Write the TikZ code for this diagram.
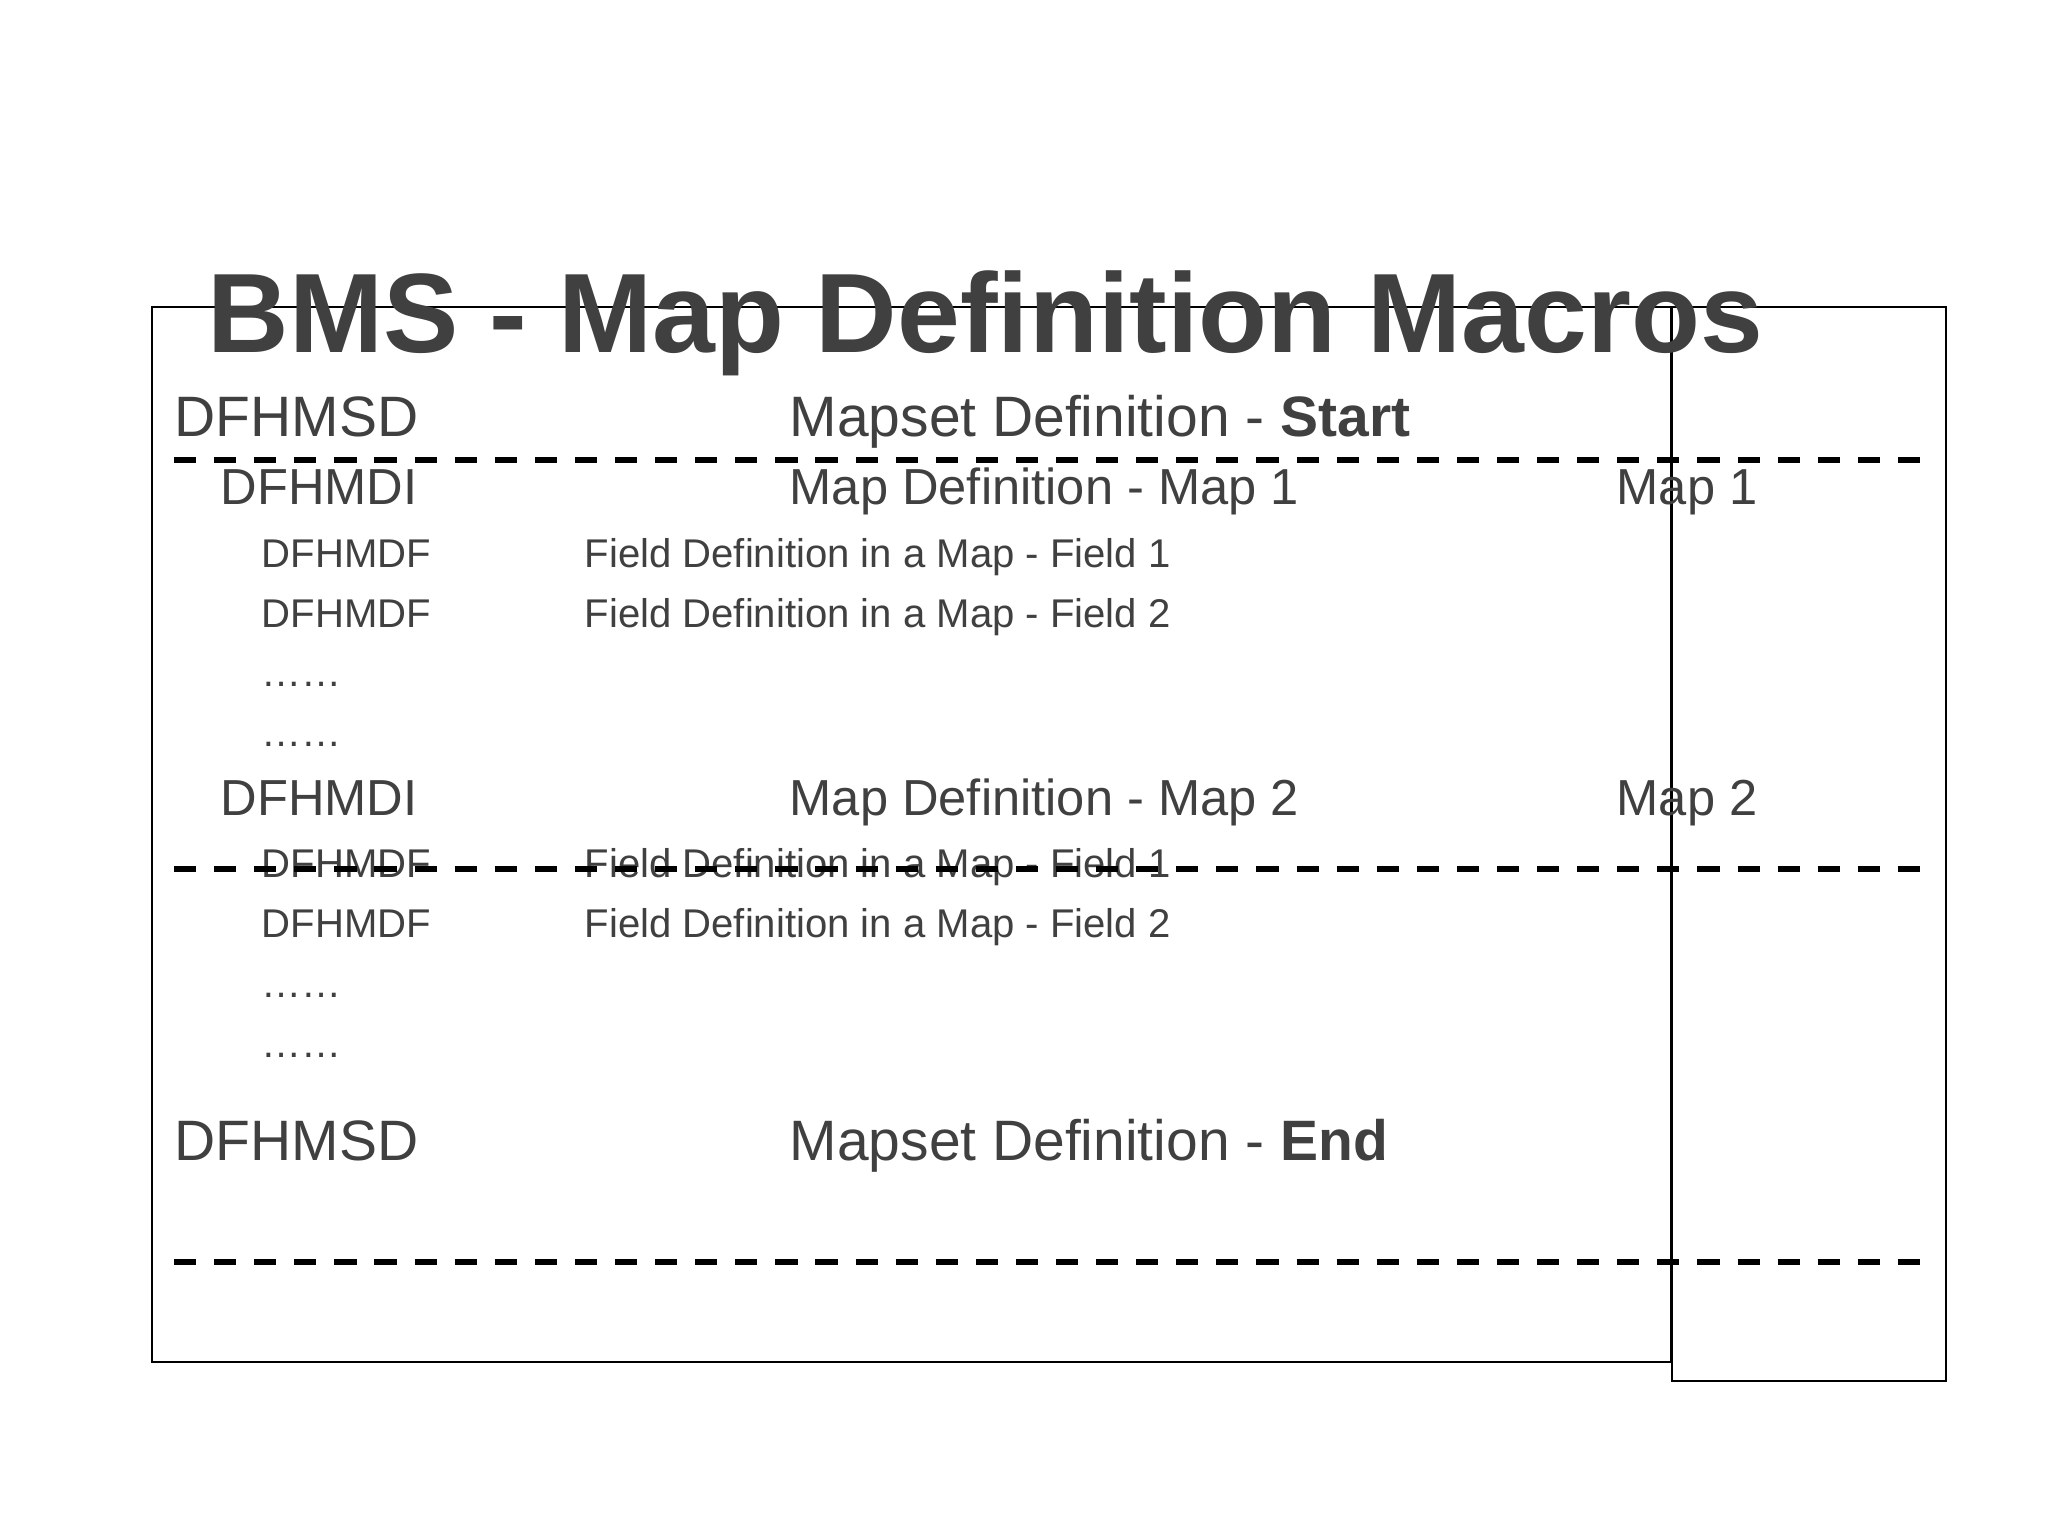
\documentclass[tikz,border=0pt]{standalone}
\usepackage{fontspec}
\setmainfont{Liberation Sans}
\definecolor{txt}{HTML}{404040}
\begin{document}
\begin{tikzpicture}[x=0.01cm,y=-0.01cm,
  big/.style={anchor=base west,inner sep=0,text=txt,font=\fontsize{16.2pt}{19pt}\selectfont},
  mid/.style={anchor=base west,inner sep=0,text=txt,font=\fontsize{14.4pt}{17pt}\selectfont},
  small/.style={anchor=base west,inner sep=0,text=txt,font=\fontsize{11.4pt}{13pt}\selectfont},
  ttl/.style={anchor=base west,inner sep=0,text=txt,font=\fontsize{32.1pt}{36pt}\selectfont\bfseries},
  frame/.style={draw=black,line width=0.7pt},
  sep/.style={draw=black,line width=1.8pt,dash pattern=on 6.3pt off 5.1pt}]
\useasboundingbox (0,0) rectangle (2048,1536);
% frames
\coordinate (L1) at (152,307); \coordinate (L2) at (1671,1362);
\coordinate (R1) at (1672,307); \coordinate (R2) at (1946,1381);
\draw[frame] (L1) rectangle (L2);
\draw[frame] (R1) rectangle (R2);
% title
\node[ttl] (title) at (207,352) {BMS - Map Definition Macros};
% rows
\node[big] (msd1) at (174,436) {DFHMSD};
\node[big] (msd1t) at (789,436) {Mapset Definition - \textbf{Start}};
\node[mid] (mdi1) at (220,504) {DFHMDI};
\node[mid] (mdi1t) at (789,504) {Map Definition - Map 1};
\node[mid] (map1) at (1616,504) {Map 1};
\node[small] (mdf1) at (261,567) {DFHMDF};
\node[small] (mdf1t) at (584,567) {Field Definition in a Map - Field 1};
\node[small] (mdf2) at (261,627) {DFHMDF};
\node[small] (mdf2t) at (584,627) {Field Definition in a Map - Field 2};
\node[small] (dots1) at (261,686) {……};
\node[small] (dots2) at (261,746) {……};
\node[mid] (mdi2) at (220,815) {DFHMDI};
\node[mid] (mdi2t) at (789,815) {Map Definition - Map 2};
\node[mid] (map2) at (1616,815) {Map 2};
\node[small] (mdf3) at (261,877) {DFHMDF};
\node[small] (mdf3t) at (584,877) {Field Definition in a Map - Field 1};
\node[small] (mdf4) at (261,937) {DFHMDF};
\node[small] (mdf4t) at (584,937) {Field Definition in a Map - Field 2};
\node[small] (dots3) at (261,997) {……};
\node[small] (dots4) at (261,1057) {……};
\node[big] (msd2) at (174,1160) {DFHMSD};
\node[big] (msd2t) at (789,1160) {Mapset Definition - \textbf{End}};
% dashed separators
\coordinate (s1a) at (174,460); \coordinate (s1b) at (1928,460);
\coordinate (s2a) at (174,869); \coordinate (s2b) at (1928,869);
\coordinate (s3a) at (174,1262); \coordinate (s3b) at (1928,1262);
\draw[sep] (s1a) -- (s1b);
\draw[sep] (s2a) -- (s2b);
\draw[sep] (s3a) -- (s3b);
\end{tikzpicture}
\end{document}
